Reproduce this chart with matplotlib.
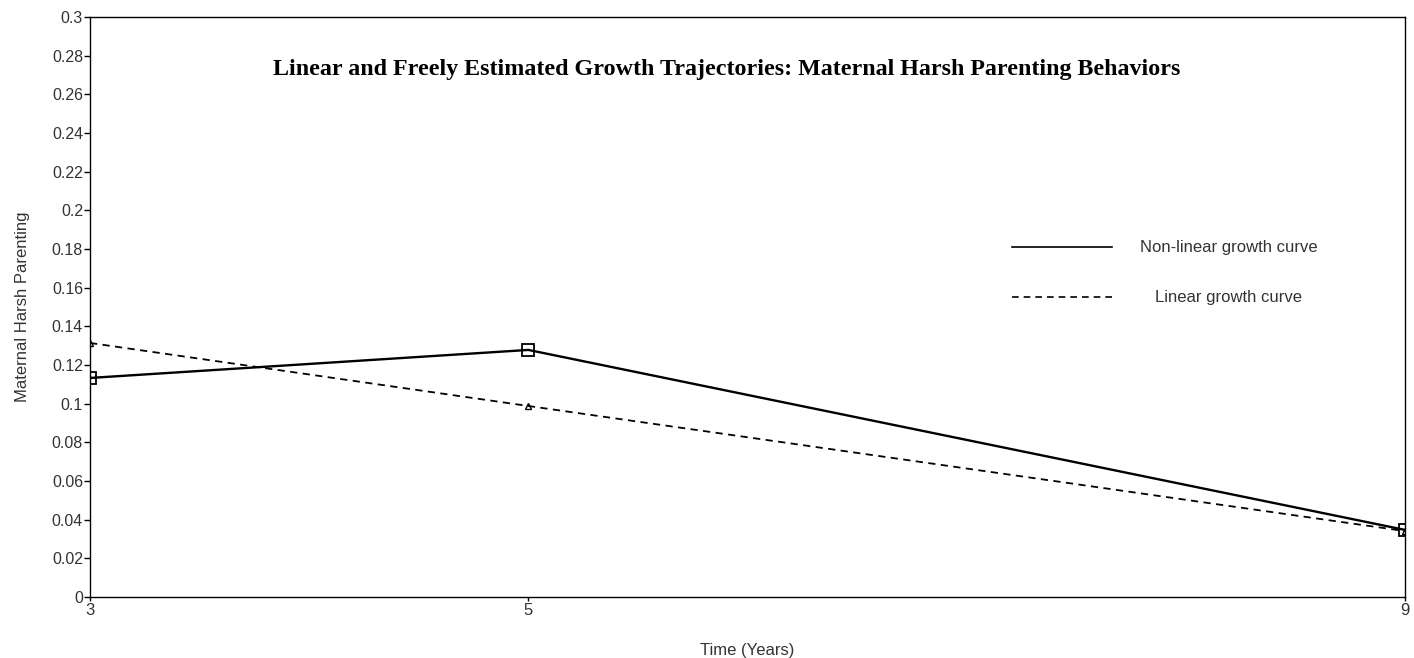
import numpy as np
import matplotlib
matplotlib.use("Agg")
import matplotlib.pyplot as plt

# Mean trajectories of maternal harsh parenting by child age
years = [3, 5, 9]
nonlinear = [0.1133, 0.1278, 0.0347]
linear = [0.1314, 0.0988, 0.0341]
yticks = np.arange(0, 0.301, 0.02)
ytick_labels = ["0", "0.02", "0.04", "0.06", "0.08", "0.1", "0.12", "0.14",
                "0.16", "0.18", "0.2", "0.22", "0.24", "0.26", "0.28", "0.3"]
key_labels = ["Non-linear growth curve", "Linear growth curve"]

plt.rcParams["font.family"] = ["Liberation Sans", "DejaVu Sans"]
txt = "#333333"

fig = plt.figure(figsize=(14.14, 6.58), dpi=100)
ax = fig.add_axes([90/1414, 1 - 597/658, 1315/1414, 580/658])

solid = dict(color="black", lw=1.7)
dashed = dict(color="black", lw=1.3, ls=(0, (4, 3)))
ax.plot(years, nonlinear, **solid,
        marker="s", ms=8, mfc="none", mec="black", mew=1.3)
ax.plot(years, linear, **dashed,
        marker="^", ms=5, mfc="none", mec="black", mew=1.0)

ax.set_xlim(3, 9)
ax.set_ylim(0, 0.3)
ax.set_xticks(years)
ax.set_xticklabels([str(y) for y in years], fontsize=12, color=txt)
ax.set_yticks(yticks)
ax.set_yticklabels(ytick_labels, fontsize=11.5, color=txt)
ax.tick_params(axis="y", length=4, width=1, pad=1)
ax.tick_params(axis="x", length=3, width=1, pad=1)
for s in ax.spines.values():
    s.set_linewidth(1.0)

ax.set_xlabel("Time (Years)", fontsize=12, color=txt, labelpad=18)
ax.set_ylabel("Maternal Harsh Parenting", fontsize=12, color=txt, labelpad=16)

ax.text(0.484, 0.91, "Linear and Freely Estimated Growth Trajectories: Maternal Harsh Parenting Behaviors",
        transform=ax.transAxes, ha="center", va="center", fontsize=17.3,
        fontweight="bold", family="Liberation Serif")

# key on the right: sample line plus centred label
key_y = [0.603, 0.517]
for yk, label, style in zip(key_y, key_labels, [dict(color="black", lw=1.2),
                                               dict(color="black", lw=1.2, ls=(0, (4, 3)))]):
    ax.plot([0.701, 0.777], [yk, yk], transform=ax.transAxes, **style)
    ax.text(0.866, yk, label, transform=ax.transAxes, ha="center", va="center",
            fontsize=12, color=txt)

fig.savefig("out.png", dpi=100)
